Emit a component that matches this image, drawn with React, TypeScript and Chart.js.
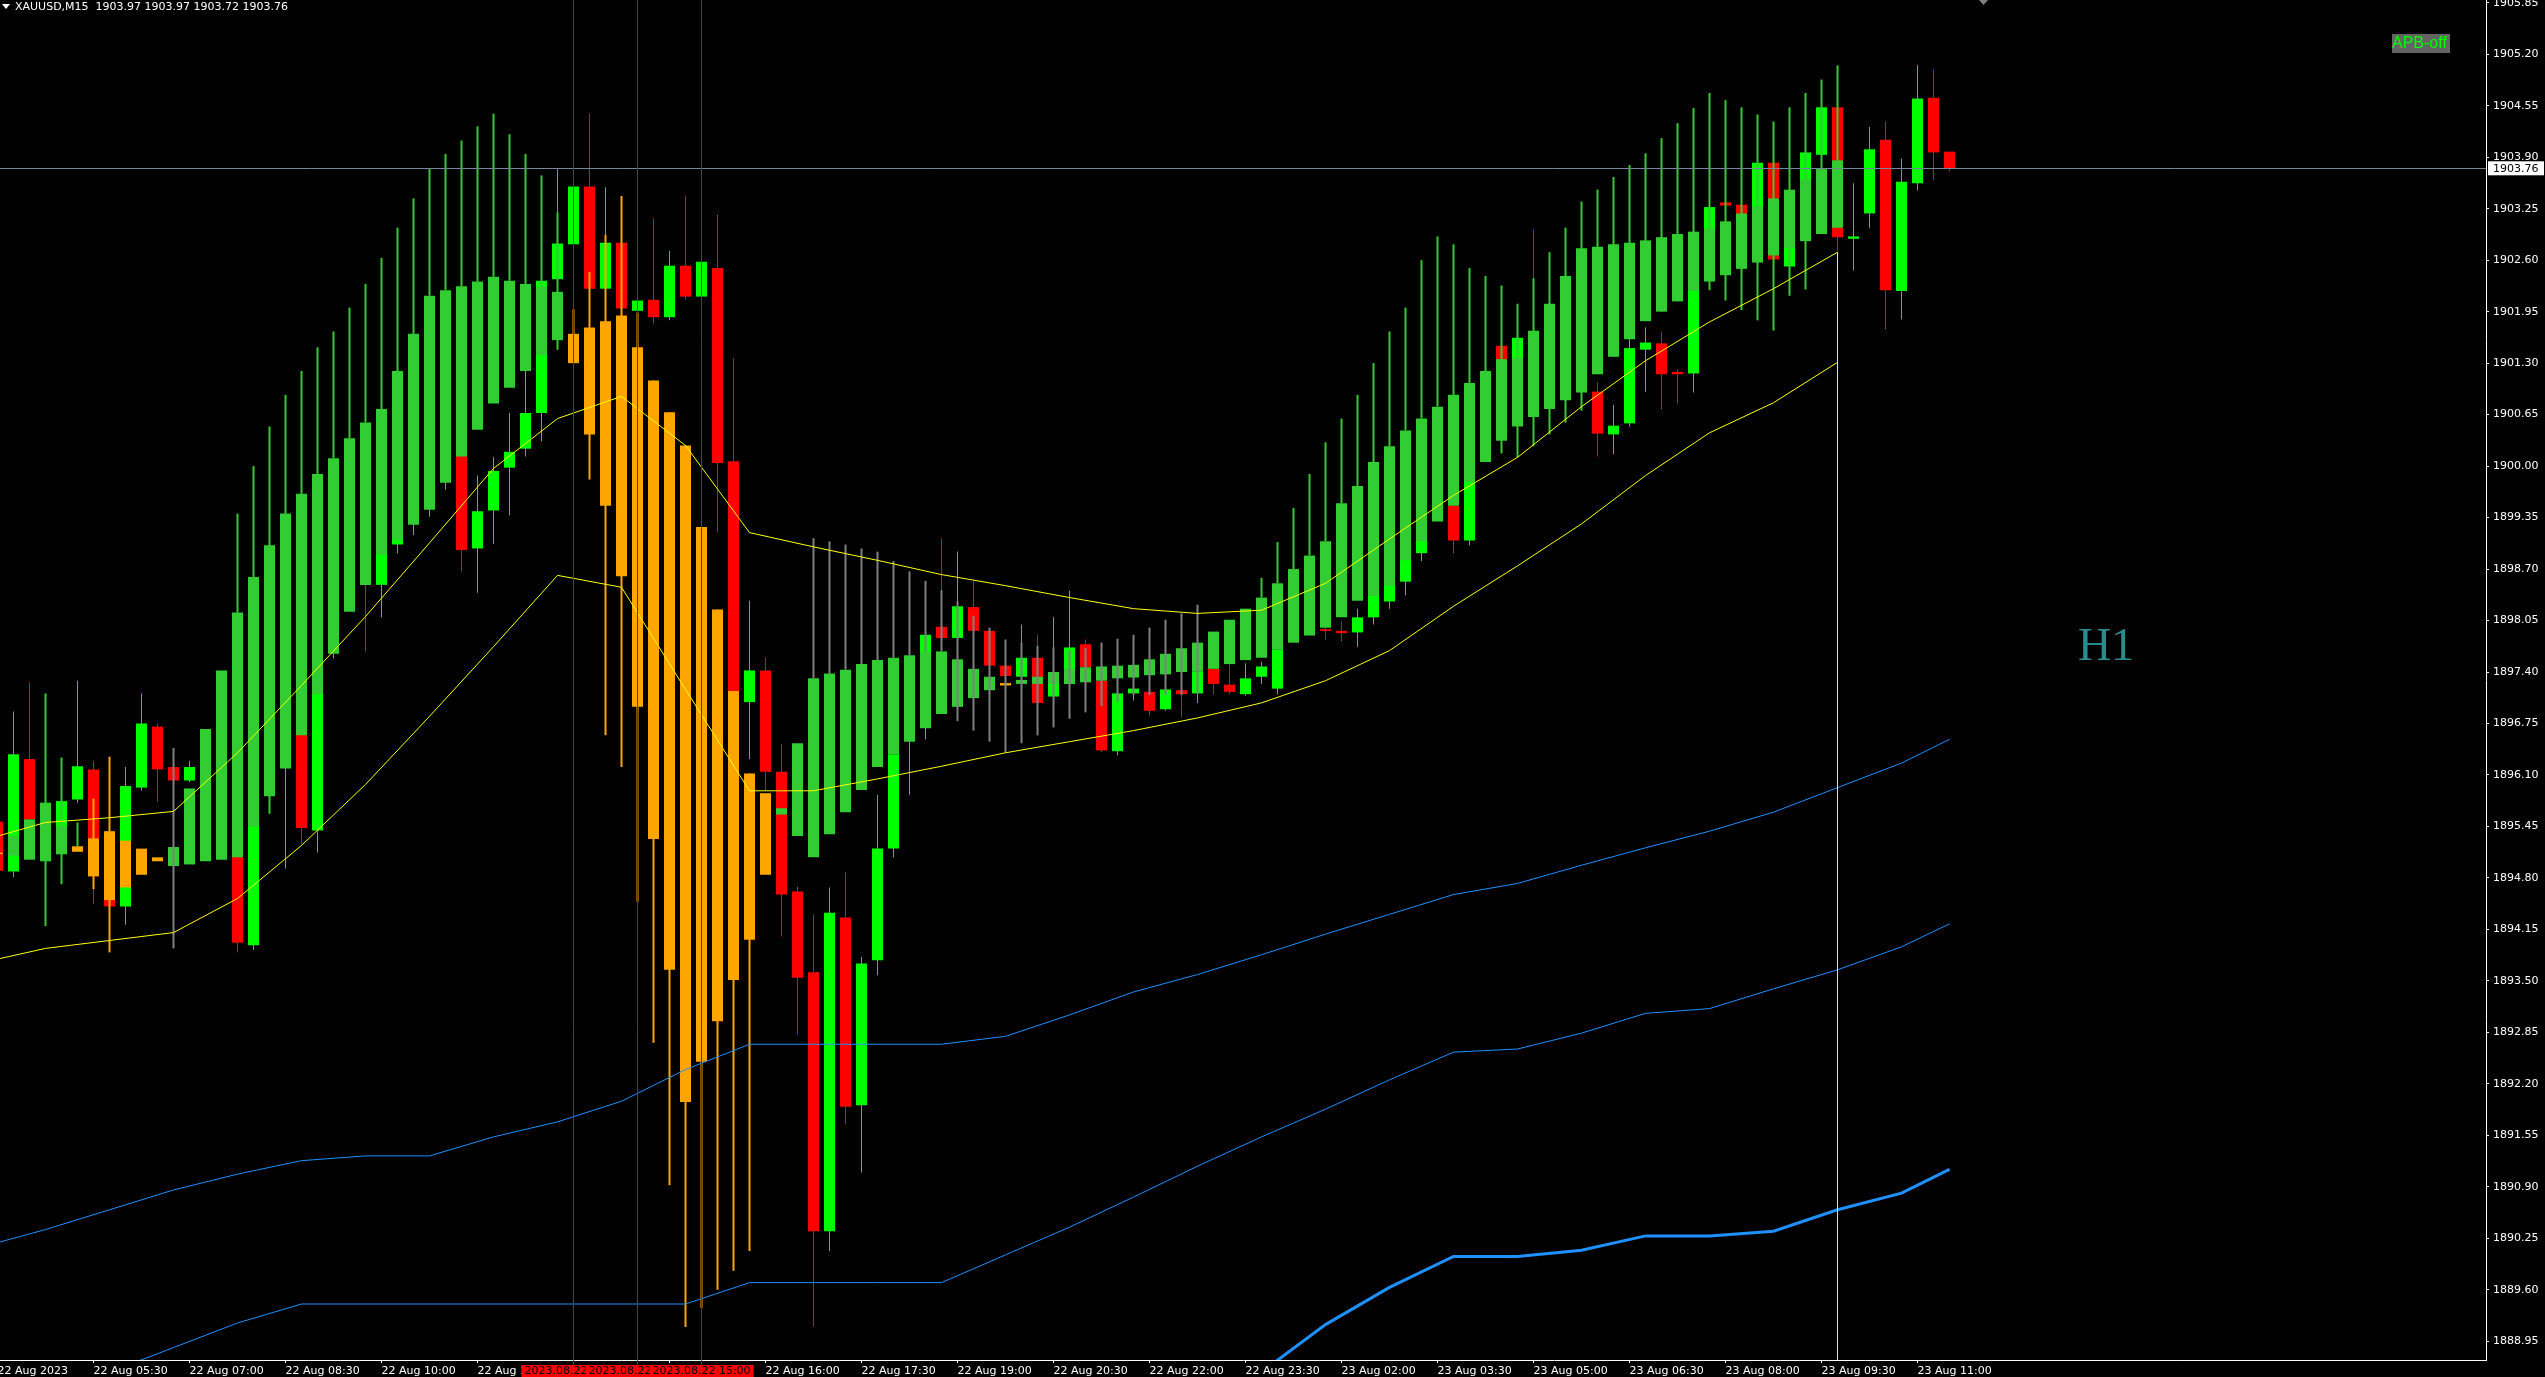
import { useEffect, useRef } from "react";
import { Chart, registerables } from "chart.js";

Chart.register(...registerables);

// ---------- candle data (M15, index 0 = 22 Aug 04:00) ----------
const candleOpen = [
  1895.51, 1894.88, 1896.30, 1895.10, 1895.10, 1895.79, 1896.17, 1895.20, 1894.44, 1895.94,
  1896.71, 1896.20, 1896.03, 1896.20, 1896.50, 1897.00, 1893.95, 1896.80, 1896.20, 1897.60,
  1895.40, 1897.80, 1898.30, 1898.90, 1898.50, 1899.01, 1899.60, 1900.20, 1900.50, 1900.90,
  1898.96, 1899.44, 1899.98, 1900.22, 1900.67, 1902.36, 1902.80, 1903.53, 1902.24, 1902.82,
  1901.96, 1902.10, 1901.88, 1902.53, 1902.14, 1902.50, 1900.06, 1897.02, 1897.42, 1896.14,
  1894.63, 1893.61, 1890.34, 1894.30, 1891.93, 1893.76, 1895.17, 1896.55, 1897.00, 1897.97,
  1897.83, 1898.22, 1897.92, 1897.48, 1897.34, 1897.58, 1897.09, 1897.25, 1897.75, 1897.29,
  1896.40, 1897.13, 1897.15, 1896.93, 1897.17, 1897.13, 1897.44, 1897.24, 1897.12, 1897.34,
  1897.19, 1897.85, 1898.40, 1897.94, 1897.92, 1897.90, 1898.09, 1898.29, 1898.54, 1898.90,
  1899.50, 1899.50, 1899.06, 1900.50, 1901.52, 1901.00, 1901.60, 1901.00, 1901.30, 1901.80,
  1900.94, 1900.40, 1900.54, 1901.47, 1901.55, 1901.19, 1901.17, 1902.45, 1903.33, 1903.30,
  1903.00, 1903.83, 1902.52, 1903.30, 1903.93, 1904.53, 1902.87, 1903.19, 1904.12, 1902.21,
  1903.57, 1904.65, 1903.97,
];
const candleHigh = [
  1895.60, 1896.90, 1897.27, 1896.90, 1896.20, 1897.29, 1896.28, 1896.20, 1896.20, 1897.13,
  1896.75, 1896.25, 1896.28, 1896.60, 1897.20, 1897.30, 1897.50, 1897.60, 1898.20, 1897.80,
  1898.30, 1898.80, 1899.30, 1899.50, 1899.80, 1900.20, 1900.60, 1901.00, 1901.30, 1901.20,
  1899.88, 1900.11, 1900.67, 1901.30, 1902.45, 1903.75, 1903.60, 1904.45, 1903.52, 1903.00,
  1902.15, 1903.13, 1902.72, 1903.41, 1902.70, 1903.17, 1901.36, 1898.30, 1897.58, 1896.49,
  1894.69, 1894.33, 1894.68, 1894.87, 1893.80, 1895.85, 1896.50, 1897.60, 1898.00, 1899.09,
  1898.92, 1898.55, 1897.95, 1897.50, 1898.00, 1897.87, 1898.09, 1898.43, 1897.81, 1897.35,
  1897.30, 1897.30, 1897.30, 1897.30, 1897.30, 1897.50, 1897.50, 1897.50, 1897.51, 1897.53,
  1897.90, 1898.50, 1898.60, 1897.96, 1898.04, 1898.20, 1898.70, 1898.90, 1899.20, 1899.70,
  1899.90, 1899.60, 1900.60, 1901.30, 1901.60, 1901.70, 1902.99, 1902.00, 1902.00, 1902.00,
  1901.06, 1900.77, 1901.60, 1901.75, 1901.70, 1901.22, 1902.50, 1903.40, 1903.40, 1903.35,
  1904.00, 1903.90, 1903.50, 1904.10, 1904.60, 1904.60, 1903.57, 1904.28, 1904.35, 1903.88,
  1905.06, 1905.01, 1903.97,
];
const candleLow = [
  1894.75, 1894.81, 1895.30, 1894.30, 1894.80, 1895.75, 1894.47, 1894.00, 1894.21, 1895.90,
  1895.76, 1895.95, 1896.01, 1895.90, 1896.30, 1893.86, 1893.89, 1895.90, 1894.92, 1895.22,
  1895.12, 1897.57, 1898.20, 1897.66, 1898.09, 1898.90, 1899.13, 1899.36, 1899.70, 1898.67,
  1898.40, 1899.02, 1899.38, 1900.12, 1900.31, 1901.47, 1902.60, 1902.00, 1902.10, 1901.90,
  1901.90, 1901.80, 1901.84, 1902.10, 1902.00, 1899.16, 1897.00, 1896.30, 1895.90, 1894.06,
  1892.82, 1889.14, 1890.09, 1891.69, 1891.08, 1893.57, 1895.06, 1895.85, 1896.55, 1897.70,
  1897.75, 1897.85, 1897.40, 1897.30, 1897.30, 1896.95, 1897.00, 1897.20, 1897.30, 1896.39,
  1896.35, 1897.04, 1896.85, 1896.91, 1896.83, 1897.01, 1897.12, 1897.12, 1897.10, 1897.25,
  1897.12, 1897.80, 1897.90, 1897.81, 1897.79, 1897.72, 1898.00, 1898.20, 1898.37, 1898.80,
  1899.30, 1898.90, 1899.00, 1900.30, 1900.90, 1900.90, 1900.80, 1900.90, 1901.20, 1900.90,
  1900.12, 1900.15, 1900.50, 1900.94, 1900.72, 1900.79, 1900.93, 1902.30, 1903.25, 1902.95,
  1902.90, 1902.50, 1902.40, 1903.20, 1903.80, 1902.72, 1902.47, 1903.01, 1901.73, 1901.85,
  1903.48, 1903.61, 1903.72,
];
const candleClose = [
  1894.89, 1896.36, 1895.54, 1895.70, 1895.77, 1896.21, 1894.82, 1894.44, 1895.96, 1896.75,
  1896.17, 1896.03, 1896.20, 1896.50, 1897.00, 1893.98, 1896.80, 1896.20, 1897.60, 1895.43,
  1897.80, 1898.30, 1898.90, 1898.50, 1899.00, 1899.60, 1900.20, 1900.50, 1900.90, 1898.94,
  1899.43, 1899.94, 1900.18, 1900.67, 1902.34, 1902.81, 1903.53, 1902.24, 1902.82, 1901.99,
  1902.09, 1901.88, 1902.53, 1902.14, 1902.58, 1900.04, 1897.16, 1897.42, 1896.14, 1894.59,
  1893.54, 1890.34, 1894.36, 1891.91, 1893.72, 1895.17, 1896.36, 1897.20, 1897.87, 1897.83,
  1898.23, 1897.92, 1897.48, 1897.35, 1897.58, 1897.01, 1897.40, 1897.71, 1897.46, 1896.41,
  1897.13, 1897.19, 1896.91, 1897.18, 1897.12, 1897.41, 1897.25, 1897.15, 1897.32, 1897.47,
  1897.68, 1898.30, 1897.95, 1897.92, 1897.89, 1898.09, 1898.50, 1898.75, 1899.10, 1899.50,
  1899.70, 1899.06, 1900.50, 1901.00, 1901.10, 1901.62, 1901.00, 1901.80, 1901.90, 1901.00,
  1900.41, 1900.51, 1901.49, 1901.56, 1901.16, 1901.16, 1902.45, 1903.27, 1903.29, 1903.00,
  1903.83, 1902.61, 1903.30, 1903.96, 1904.53, 1902.89, 1902.90, 1904.00, 1902.22, 1903.59,
  1904.64, 1903.96, 1903.76,
];

// ---------- overlay indicator bars (H1 based) ----------
const haTop = [
  1895.12, 1895.33, 1895.54, 1895.75, 1895.45, 1895.20, 1895.30, 1895.39, 1895.27, 1895.17,
  1895.06, 1895.19, 1895.93, 1896.68, 1897.42, 1898.15, 1898.60, 1899.00, 1899.40, 1899.65,
  1899.90, 1900.10, 1900.35, 1900.55, 1900.72, 1901.20, 1901.67, 1902.15, 1902.22, 1902.27,
  1902.33, 1902.39, 1902.34, 1902.30, 1902.26, 1902.20, 1901.67, 1901.75, 1901.83, 1901.90,
  1901.50, 1901.08, 1900.68, 1900.26, 1899.23, 1898.19, 1897.16, 1896.12, 1895.87, 1895.68,
  1896.50, 1897.32, 1897.38, 1897.43, 1897.50, 1897.55, 1897.58, 1897.61, 1897.65, 1897.66,
  1897.56, 1897.44, 1897.34, 1897.26, 1897.30, 1897.34, 1897.40, 1897.44, 1897.46, 1897.47,
  1897.48, 1897.49, 1897.56, 1897.63, 1897.70, 1897.77, 1897.91, 1898.06, 1898.20, 1898.34,
  1898.52, 1898.70, 1898.87, 1899.05, 1899.53, 1899.75, 1900.05, 1900.25, 1900.45, 1900.60,
  1900.75, 1900.90, 1901.05, 1901.20, 1901.35, 1901.37, 1901.71, 1902.05, 1902.40, 1902.75,
  1902.77, 1902.80, 1902.82, 1902.85, 1902.89, 1902.93, 1902.96, 1903.00, 1903.09, 1903.19,
  1903.28, 1903.38, 1903.49, 1903.62, 1903.75, 1903.86,
];
const haBottom = [
  1895.10, 1895.08, 1895.03, 1895.01, 1895.10, 1895.13, 1894.82, 1894.52, 1894.68, 1894.84,
  1895.01, 1894.95, 1894.97, 1895.01, 1895.03, 1895.06, 1895.45, 1895.83, 1896.18, 1896.60,
  1897.12, 1897.63, 1898.16, 1898.50, 1898.88, 1899.07, 1899.26, 1899.45, 1899.79, 1900.12,
  1900.46, 1900.79, 1900.99, 1901.20, 1901.40, 1901.59, 1901.30, 1900.40, 1899.50, 1898.61,
  1896.96, 1895.29, 1893.64, 1891.97, 1892.48, 1892.99, 1893.51, 1894.02, 1894.84, 1895.60,
  1895.33, 1895.06, 1895.35, 1895.63, 1895.91, 1896.20, 1896.36, 1896.52, 1896.69, 1896.87,
  1896.96, 1897.07, 1897.17, 1897.23, 1897.25, 1897.25, 1897.25, 1897.25, 1897.27, 1897.29,
  1897.32, 1897.33, 1897.36, 1897.37, 1897.40, 1897.41, 1897.44, 1897.50, 1897.55, 1897.58,
  1897.68, 1897.77, 1897.86, 1897.96, 1898.09, 1898.30, 1898.36, 1898.49, 1898.81, 1899.05,
  1899.30, 1899.50, 1899.80, 1900.05, 1900.32, 1900.50, 1900.62, 1900.72, 1900.83, 1900.93,
  1901.16, 1901.38, 1901.60, 1901.83, 1901.95, 1902.08, 1902.21, 1902.33, 1902.41, 1902.49,
  1902.57, 1902.66, 1902.75, 1902.84, 1902.93, 1903.01,
];
const haColor = [
  "o", "g", "g", "g", "g", "o", "o", "o", "o", "o",
  "o", "g", "g", "g", "g", "g", "g", "g", "g", "g",
  "g", "g", "g", "g", "g", "g", "g", "g", "g", "g",
  "g", "g", "g", "g", "g", "g", "o", "o", "o", "o",
  "o", "o", "o", "o", "o", "o", "o", "o", "o", "g",
  "g", "g", "g", "g", "g", "g", "g", "g", "g", "g",
  "g", "g", "g", "o", "g", "g", "g", "g", "g", "g",
  "g", "g", "g", "g", "g", "g", "g", "g", "g", "g",
  "g", "g", "g", "g", "g", "g", "g", "g", "g", "g",
  "g", "g", "g", "g", "g", "g", "g", "g", "g", "g",
  "g", "g", "g", "g", "g", "g", "g", "g", "g", "g",
  "g", "g", "g", "g", "g", "g",
];
const haWickHigh = [
  null, null, null, 1897.13, 1896.32, 1895.50, 1895.80, 1896.33, null, null,
  null, 1896.44, null, null, null, 1899.40, 1900.00, 1900.50, 1900.90, 1901.20,
  1901.50, 1901.70, 1902.00, 1902.30, 1902.63, 1903.01, 1903.38, 1903.75, 1903.94, 1904.11,
  1904.29, 1904.45, 1904.19, 1903.94, 1903.67, 1903.20, 1901.98, 1902.45, 1902.92, 1903.41,
  1901.94, 1901.08, 1900.68, 1900.26, 1899.23, 1898.19, 1897.16, 1896.12, null, null,
  null, 1899.09, 1899.05, 1899.01, 1898.96, 1898.92, 1898.80, 1898.67, 1898.55, 1898.43,
  1898.29, 1898.11, 1897.96, 1897.81, 1897.77, 1897.73, 1897.71, 1897.67, 1897.70, 1897.77,
  1897.82, 1897.87, 1897.96, 1898.06, 1898.14, 1898.25, null, null, null, 1898.59,
  1899.04, 1899.47, 1899.90, 1900.30, 1900.60, 1900.90, 1901.30, 1901.70, 1902.00, 1902.60,
  1902.90, 1902.80, 1902.50, 1902.40, 1902.28, 1902.05, 1902.37, 1902.70, 1903.01, 1903.34,
  1903.49, 1903.65, 1903.80, 1903.95, 1904.14, 1904.33, 1904.52, 1904.71, 1904.62, 1904.53,
  1904.44, 1904.35, 1904.53, 1904.71, 1904.88, 1905.06,
];
const haWickLow = [
  null, null, null, 1894.19, 1894.72, 1895.20, 1894.66, 1893.86, null, null,
  null, 1893.91, null, null, null, 1898.15, 1898.60, 1895.61, 1899.40, 1899.65,
  1899.90, 1900.10, 1900.35, 1900.55, 1900.72, 1901.20, 1901.67, 1902.15, 1902.22, 1902.27,
  1902.33, 1902.39, 1902.34, 1902.30, 1902.26, 1901.47, 1901.30, 1899.83, 1896.60, 1896.20,
  1894.50, 1892.72, 1890.92, 1889.13, 1889.37, 1889.60, 1889.84, 1890.09, null, null,
  null, 1897.32, 1897.38, 1897.43, 1897.50, 1897.55, 1897.58, 1897.61, 1897.65, 1897.66,
  1896.78, 1896.66, 1896.52, 1896.38, 1896.50, 1896.60, 1896.70, 1896.81, 1896.89, 1896.97,
  1897.03, 1897.11, 1897.11, 1897.11, 1897.11, 1897.13, null, null, null, 1898.34,
  1898.52, 1898.70, 1898.87, 1899.05, 1899.53, 1899.75, 1900.05, 1900.25, 1900.45, 1900.60,
  1900.75, 1900.90, 1901.05, 1901.20, 1900.16, 1900.11, 1900.25, 1900.40, 1900.55, 1900.70,
  1901.16, 1901.38, 1901.60, 1901.83, 1901.95, 1902.08, 1902.21, 1902.22, 1902.09, 1901.97,
  1901.84, 1901.71, 1902.15, 1902.23, 1902.93, 1903.01,
];
const haWickColor = [
  "", "", "", "g", "g", "g", "o", "o", "", "",
  "", "s", "", "", "", "g", "g", "g", "g", "g",
  "g", "g", "g", "g", "g", "g", "g", "g", "g", "g",
  "g", "g", "g", "g", "g", "g", "o", "o", "o", "o",
  "o", "o", "o", "o", "o", "o", "o", "o", "", "",
  "", "s", "s", "s", "s", "s", "s", "s", "s", "s",
  "s", "s", "s", "s", "s", "s", "s", "s", "s", "s",
  "s", "s", "s", "s", "s", "s", "", "", "", "g",
  "g", "g", "g", "g", "g", "g", "g", "g", "g", "g",
  "g", "g", "g", "g", "g", "g", "g", "g", "g", "g",
  "g", "g", "g", "g", "g", "g", "g", "g", "g", "g",
  "g", "g", "g", "g", "g", "g",
];

// ---------- moving averages (H1, points at last M15 bar of each hour) ----------
const maIdx = [-1, 3, 7, 11, 15, 19, 23, 27, 31, 35, 39, 43, 47, 51, 55, 59, 63, 67, 71, 75, 79, 83, 87, 91, 95, 99, 103, 107, 111, 115];
const fastMA = [
  1895.27, 1895.50, 1895.56, 1895.64, 1896.38, 1897.23, 1898.10, 1899.03, 1899.97, 1900.60,
  1900.88, 1900.26, 1899.16, 1898.98, 1898.81, 1898.63, 1898.49, 1898.34, 1898.20, 1898.14,
  1898.18, 1898.52, 1899.08, 1899.63, 1900.11, 1900.75, 1901.33, 1901.82, 1902.24, 1902.70,
];
const slowMA = [
  1893.73, 1893.91, 1894.01, 1894.11, 1894.54, 1895.21, 1895.98, 1896.84, 1897.72, 1898.62,
  1898.47, 1897.18, 1895.90, 1895.90, 1896.05, 1896.21, 1896.38, 1896.52, 1896.66, 1896.82,
  1897.01, 1897.29, 1897.67, 1898.23, 1898.74, 1899.27, 1899.88, 1900.42, 1900.80, 1901.31,
];
const blueIdx = [-1, 3, 7, 11, 15, 19, 23, 27, 31, 35, 39, 43, 47, 51, 55, 59, 63, 67, 71, 75, 79, 83, 87, 91, 95, 99, 103, 107, 111, 115, 119, 122];
const blueUpper = [
  1890.14, 1890.36, 1890.61, 1890.86, 1891.06, 1891.23, 1891.29, 1891.29, 1891.53, 1891.72,
  1891.98, 1892.38, 1892.70, 1892.70, 1892.70, 1892.70, 1892.80, 1893.07, 1893.36, 1893.58,
  1893.83, 1894.09, 1894.34, 1894.59, 1894.73, 1894.96, 1895.18, 1895.39, 1895.63, 1895.94,
  1896.25, 1896.55,
];
const blueMiddle = [
  1887.95, 1888.25, 1888.56, 1888.87, 1889.18, 1889.42, 1889.42, 1889.42, 1889.42, 1889.42,
  1889.42, 1889.42, 1889.69, 1889.69, 1889.69, 1889.69, 1890.04, 1890.39, 1890.77, 1891.16,
  1891.53, 1891.88, 1892.25, 1892.60, 1892.64, 1892.84, 1893.09, 1893.15, 1893.40, 1893.64,
  1893.93, 1894.22,
];
const blueThickIdx = [75, 79, 83, 87, 91, 95, 99, 103, 107, 111, 115, 119, 122];
const blueThick = [
  1887.95, 1888.56, 1889.16, 1889.63, 1890.02, 1890.02, 1890.10, 1890.28, 1890.28, 1890.34,
  1890.61, 1890.82, 1891.12,
];

// ---------- axes / markers ----------
const xTickIdx = [0, 6, 12, 18, 24, 30, 36, 42, 48, 54, 60, 66, 72, 78, 84, 90, 96, 102, 108, 114, 120];
const xTickLabels = [
  "22 Aug 2023", "22 Aug 05:30", "22 Aug 07:00", "22 Aug 08:30", "22 Aug 10:00", "22 Aug 11:30",
  "22 Aug 13:00", "22 Aug 14:30", "22 Aug 16:00", "22 Aug 17:30", "22 Aug 19:00", "22 Aug 20:30",
  "22 Aug 22:00", "22 Aug 23:30", "23 Aug 02:00", "23 Aug 03:30", "23 Aug 05:00", "23 Aug 06:30",
  "23 Aug 08:00", "23 Aug 09:30", "23 Aug 11:00",
];
const yTickValues = [
  1888.95, 1889.60, 1890.25, 1890.90, 1891.55, 1892.20, 1892.85, 1893.50, 1894.15,
  1894.80, 1895.45, 1896.10, 1896.75, 1897.40, 1898.05, 1898.70, 1899.35, 1900.00,
  1900.65, 1901.30, 1901.95, 1902.60, 1903.25, 1903.90, 1904.55, 1905.20, 1905.85,
];
const vLineIdx = [36, 40, 44];
const vLineLabels = ["2023.08.22 13:00", "2023.08.22 14:00", "2023.08.22 15:00"];
const cursorIdx = 115;
const headerText = "XAUUSD,M15  1903.97 1903.97 1903.72 1903.76";
const tfLabel = "H1";
const apbLabel = "APB-off";

const Y_MIN = 1888.713;
const Y_MAX = 1905.885;
const X_MIN = 0.15625;
const X_MAX = 155.53125;

const W = 2545;
const H = 1377;
const FONT = '"DejaVu Sans", sans-serif';
const PAL: Record<string, string> = { g: "#32CD32", o: "#FFA500", s: "#808080" };

export default function App() {
  const canvasRef = useRef<HTMLCanvasElement | null>(null);

  useEffect(() => {
    document.body.style.margin = "0";
    document.body.style.background = "#000";
    const canvas = canvasRef.current;
    if (!canvas) return;

    const idx = candleOpen.map((_, i) => i);
    const bull = idx.map((i) => candleClose[i] >= candleOpen[i]);
    const wickData = idx.map((i) => ({ x: i, y: [candleLow[i], candleHigh[i]] }));
    const bodyData = idx.map((i) => ({
      x: i,
      y: [Math.min(candleOpen[i], candleClose[i]), Math.max(candleOpen[i], candleClose[i])],
    }));
    const haIdx = haTop.map((_, i) => i);
    const haBodyData = haIdx.map((i) => ({ x: i, y: [haBottom[i], haTop[i]] }));
    const haWickItems = haIdx.filter((i) => haWickHigh[i] !== null && haWickLow[i] !== null);
    const haWickData = haWickItems.map((i) => ({ x: i, y: [haWickLow[i] as number, haWickHigh[i] as number] }));

    const pts = (xs: number[], ys: number[]) => xs.map((x, k) => ({ x, y: ys[k] }));

    const barCommon = {
      type: "bar" as const,
      grouped: false,
      borderWidth: 0,
      inflateAmount: 0,
    };
    const lineCommon = {
      type: "line" as const,
      pointRadius: 0,
      fill: false,
      tension: 0,
      spanGaps: true,
    };

    const extras = {
      id: "mtExtras",
      afterDatasetsDraw(chart: any) {
        const { ctx, chartArea, scales } = chart;
        const x = scales.x;
        const y = scales.y;
        ctx.save();
        // current price line
        const py = Math.floor(y.getPixelForValue(candleClose[candleClose.length - 1])) + 0.5;
        ctx.strokeStyle = "#778899";
        ctx.lineWidth = 1;
        ctx.beginPath();
        ctx.moveTo(chartArea.left, py);
        ctx.lineTo(chartArea.right, py);
        ctx.stroke();
        // red vertical lines
        ctx.strokeStyle = "#DD0000";
        vLineIdx.forEach((v) => {
          const px = Math.floor(x.getPixelForValue(v)) + 0.5;
          ctx.beginPath();
          ctx.moveTo(px, 0);
          ctx.lineTo(px, chartArea.bottom + 6);
          ctx.stroke();
        });
        ctx.restore();
      },
      afterDraw(chart: any) {
        const { ctx, chartArea, scales } = chart;
        const x = scales.x;
        const y = scales.y;
        ctx.save();
        ctx.font = `11px ${FONT}`;
        ctx.textBaseline = "middle";
        // vertical line labels on the time axis
        vLineIdx.forEach((v, k) => {
          const px = Math.floor(x.getPixelForValue(v)) + 0.5;
          const tw = ctx.measureText(vLineLabels[k]).width;
          const bw = tw + 6;
          ctx.fillStyle = "#FF0000";
          ctx.fillRect(px - bw / 2, chartArea.bottom + 5, bw, H - chartArea.bottom - 5);
          ctx.fillStyle = "#000000";
          ctx.textAlign = "center";
          ctx.fillText(vLineLabels[k], px, chartArea.bottom + 11);
        });
        // current price box
        const py = y.getPixelForValue(candleClose[candleClose.length - 1]);
        ctx.fillStyle = "#FFFFFF";
        ctx.fillRect(chartArea.right + 2, py - 7, W - chartArea.right - 3, 14);
        ctx.fillStyle = "#000000";
        ctx.textAlign = "left";
        ctx.fillText(candleClose[candleClose.length - 1].toFixed(2), chartArea.right + 7, py + 0.5);
        // header
        ctx.fillStyle = "#FFFFFF";
        ctx.beginPath();
        ctx.moveTo(2, 4);
        ctx.lineTo(10, 4);
        ctx.lineTo(6, 9);
        ctx.closePath();
        ctx.fill();
        ctx.font = `11px ${FONT}`;
        ctx.textAlign = "left";
        ctx.fillText(headerText, 15, 7);
        // chart shift marker
        ctx.fillStyle = "#808080";
        ctx.beginPath();
        ctx.moveTo(1979, 0);
        ctx.lineTo(1988, 0);
        ctx.lineTo(1983.5, 5);
        ctx.closePath();
        ctx.fill();
        // APB-off label
        ctx.fillStyle = "#646464";
        ctx.fillRect(2392, 34, 58, 19);
        ctx.fillStyle = "#00FF00";
        ctx.font = '16px "Liberation Sans", Arial, sans-serif';
        ctx.textAlign = "left";
        ctx.fillText(apbLabel, 2392, 44);
        // timeframe label
        ctx.fillStyle = "#2A8C8C";
        ctx.font = '46px "Liberation Serif", "Times New Roman", serif';
        ctx.textAlign = "center";
        ctx.fillText(tfLabel, 2106, 648);
        ctx.restore();
      },
    };

    const chart = new Chart(canvas, {
      type: "bar",
      data: {
        datasets: [
          {
            ...barCommon,
            label: "candle wick",
            data: wickData as any,
            barThickness: 1,
            backgroundColor: idx.map((i) => (bull[i] ? "#32CD32" : "#FF0000")),
            order: 10,
          },
          {
            ...barCommon,
            label: "candle body",
            data: bodyData as any,
            barThickness: 11,
            minBarLength: 1,
            backgroundColor: idx.map((i) => (bull[i] ? "#00FF00" : "#FF0000")),
            order: 9,
          },
          {
            ...barCommon,
            label: "indicator body",
            data: haBodyData as any,
            barThickness: 11,
            minBarLength: 1,
            backgroundColor: haIdx.map((i) => PAL[haColor[i]]),
            order: 8,
          },
          {
            ...barCommon,
            label: "indicator wick",
            data: haWickData as any,
            barThickness: 2,
            backgroundColor: haWickItems.map((i) => PAL[haWickColor[i]] || "#32CD32"),
            order: 7,
          },
          {
            ...lineCommon,
            label: "blue upper",
            data: pts(blueIdx, blueUpper) as any,
            borderColor: "#1E90FF",
            borderWidth: 1,
            order: 5,
          },
          {
            ...lineCommon,
            label: "blue middle",
            data: pts(blueIdx, blueMiddle) as any,
            borderColor: "#1E90FF",
            borderWidth: 1,
            order: 5,
          },
          {
            ...lineCommon,
            label: "blue thick",
            data: pts(blueThickIdx, blueThick) as any,
            borderColor: "#1E90FF",
            borderWidth: 3,
            order: 5,
          },
          {
            ...lineCommon,
            label: "fast MA",
            data: pts(maIdx, fastMA) as any,
            borderColor: "#FFFF00",
            borderWidth: 1,
            order: 4,
          },
          {
            ...lineCommon,
            label: "slow MA",
            data: pts(maIdx, slowMA) as any,
            borderColor: "#FFFF00",
            borderWidth: 1,
            order: 4,
          },
          {
            ...lineCommon,
            label: "cursor",
            data: [
              { x: cursorIdx, y: fastMA[fastMA.length - 1] },
              { x: cursorIdx, y: Y_MIN - 1 },
            ] as any,
            borderColor: "#FFFF00",
            borderWidth: 1,
            order: 3,
          },
        ] as any,
      },
      options: {
        responsive: false,
        maintainAspectRatio: false,
        animation: false,
        devicePixelRatio: 1,
        events: [],
        layout: { padding: 0 },
        plugins: {
          legend: { display: false },
          tooltip: { enabled: false },
          title: { display: false },
        },
        scales: {
          x: {
            type: "linear",
            position: "bottom",
            min: X_MIN,
            max: X_MAX,
            offset: false,
            afterBuildTicks: (s: any) => {
              s.ticks = xTickIdx.map((v) => ({ value: v }));
            },
            afterFit: (s: any) => {
              s.height = 17;
              s.paddingLeft = 0;
              s.paddingRight = 0;
              s.paddingTop = 0;
              s.paddingBottom = 0;
            },
            ticks: {
              autoSkip: false,
              maxRotation: 0,
              minRotation: 0,
              align: "start",
              color: "#FFFFFF",
              font: { family: FONT, size: 11 },
              padding: 2,
              callback: (_v: any, i: number) => xTickLabels[i],
            },
            grid: { drawOnChartArea: false, drawTicks: true, tickLength: 3, color: "#FFFFFF", offset: false },
            border: { display: true, color: "#FFFFFF", width: 1 },
          },
          y: {
            type: "linear",
            position: "right",
            min: Y_MIN,
            max: Y_MAX,
            afterBuildTicks: (s: any) => {
              s.ticks = yTickValues.map((v) => ({ value: v }));
            },
            afterFit: (s: any) => {
              s.width = W - 2486;
              s.paddingLeft = 0;
              s.paddingRight = 0;
              s.paddingTop = 0;
              s.paddingBottom = 0;
            },
            ticks: {
              autoSkip: false,
              color: "#FFFFFF",
              font: { family: FONT, size: 11 },
              padding: 4,
              callback: (v: any) => Number(v).toFixed(2),
            },
            grid: { drawOnChartArea: false, drawTicks: true, tickLength: 3, color: "#FFFFFF" },
            border: { display: true, color: "#FFFFFF", width: 1 },
          },
        },
      } as any,
      plugins: [extras],
    });

    return () => chart.destroy();
  }, []);

  return (
    <div style={{ position: "fixed", left: 0, top: 0, width: W, height: H, background: "#000", overflow: "hidden" }}>
      <canvas ref={canvasRef} width={W} height={H} style={{ display: "block", width: W, height: H }} />
    </div>
  );
}
